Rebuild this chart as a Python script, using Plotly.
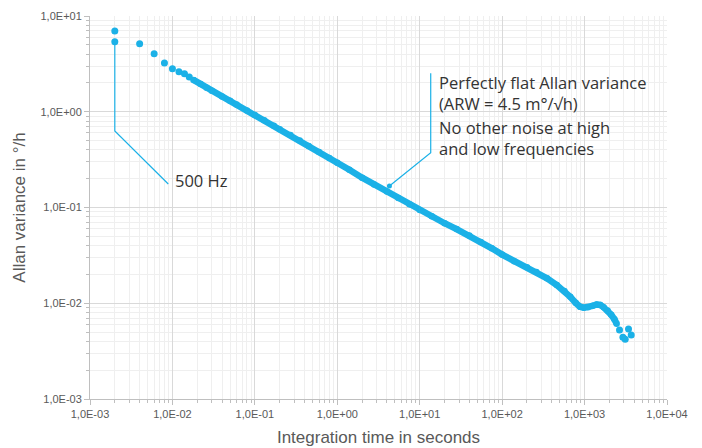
import numpy as np
import plotly.graph_objects as go

BLUE = "#1BB1E7"
GRAY_TXT = "#595959"

# Sparse points at short integration times (seconds, °/h)
tau_sparse = [0.002, 0.002, 0.004, 0.006, 0.008, 0.010, 0.012, 0.014, 0.016]
adev_sparse = [6.97, 5.39, 5.14, 4.03, 3.23, 2.82, 2.62, 2.50, 2.31]

# Dense part of the curve
tau_dense = [0.018, 0.022, 0.026, 0.03, 0.04, 0.05, 0.06, 0.08, 0.1, 0.13, 0.17, 0.2,
             0.27, 0.35, 0.45, 0.6, 0.8, 1.0, 1.4, 2.0, 2.8, 4.0, 5.5, 7.5, 10, 14,
             20, 28, 40, 55, 75, 100, 140, 200, 260, 350, 460, 570, 670, 780, 880,
             980, 1100, 1250, 1400, 1550, 1700, 1900, 2100, 2300, 2450]
adev_dense = [2.15, 1.95, 1.78, 1.66, 1.44, 1.30, 1.19, 1.03, 0.925, 0.815, 0.715, 0.655,
              0.572, 0.50, 0.44, 0.38, 0.328, 0.293, 0.248, 0.205, 0.174, 0.147, 0.126,
              0.108, 0.0942, 0.081, 0.0685, 0.0595, 0.051, 0.0435, 0.0375, 0.0322,
              0.0275, 0.0238, 0.0212, 0.0182, 0.0155, 0.0134, 0.0117, 0.0101, 0.0092,
              0.0090, 0.0091, 0.0094, 0.0097, 0.0096, 0.0091, 0.0084, 0.0076, 0.0068,
              0.0061]

# Scattered tail points
tau_tail = [2655, 2917, 3112, 3412, 3681]
adev_tail = [0.00526, 0.00441, 0.0042, 0.00538, 0.00466]

# Callout leader lines
callout1_x = [0.002, 0.002, 0.0089]
callout1_y = [5.39, 0.63, 0.176]
callout2_x = [4.29, 13.6, 13.6]
callout2_y = [0.1677, 0.373, 2.52]

x_tickvals = [1e-3, 1e-2, 1e-1, 1e0, 1e1, 1e2, 1e3, 1e4]
x_ticktext = ["1,0E-03", "1,0E-02", "1,0E-01", "1,0E+00", "1,0E+01", "1,0E+02", "1,0E+03", "1,0E+04"]
y_tickvals = [1e-3, 1e-2, 1e-1, 1e0, 1e1]
y_ticktext = ["1,0E-03", "1,0E-02", "1,0E-01", "1,0E+00", "1,0E+01"]

fig = go.Figure()
fig.add_trace(go.Scatter(x=callout1_x, y=callout1_y, mode="lines",
                         line=dict(color=BLUE, width=1.2), hoverinfo="skip"))
fig.add_trace(go.Scatter(x=callout2_x, y=callout2_y, mode="lines",
                         line=dict(color=BLUE, width=1.2), hoverinfo="skip"))
fig.add_trace(go.Scatter(x=[callout2_x[0]], y=[callout2_y[0]], mode="markers",
                         marker=dict(color=BLUE, size=5), hoverinfo="skip"))
fig.add_trace(go.Scatter(x=tau_sparse, y=adev_sparse, mode="markers",
                         marker=dict(color=BLUE, size=7)))
fig.add_trace(go.Scatter(x=tau_dense, y=adev_dense, mode="lines+markers",
                         line=dict(color=BLUE, width=6.5), marker=dict(color=BLUE, size=6.5)))
fig.add_trace(go.Scatter(x=tau_tail, y=adev_tail, mode="markers",
                         marker=dict(color=BLUE, size=7)))

ann_font = dict(family="Open Sans", size=16.5, color="#333333")
fig.add_annotation(x=np.log10(0.0101), y=np.log10(0.1936), xref="x", yref="y",
                   text="500 Hz", showarrow=False, xanchor="left", yanchor="middle",
                   font=ann_font)
fig.add_annotation(x=np.log10(16.4), y=np.log10(1.56), xref="x", yref="y",
                   text="Perfectly flat Allan variance<br>(ARW = 4.5 m°/√h)", showarrow=False,
                   xanchor="left", yanchor="middle", align="left", font=ann_font)
fig.add_annotation(x=np.log10(16.4), y=np.log10(0.534), xref="x", yref="y",
                   text="No other noise at high<br>and low frequencies", showarrow=False,
                   xanchor="left", yanchor="middle", align="left", font=ann_font)

axis_common = dict(
    type="log",
    automargin=False,
    showgrid=True, gridcolor="#d9d9d9", gridwidth=1,
    showline=True, linecolor="#bfbfbf", linewidth=1,
    ticks="outside", ticklen=5, tickcolor="#bfbfbf",
    tickfont=dict(family="Liberation Sans", size=11, color=GRAY_TXT),
    zeroline=False,
    minor=dict(dtick="D1", showgrid=True, gridcolor="#efefef", gridwidth=1,
               ticks="outside", ticklen=3, tickcolor="#bfbfbf"),
)

fig.update_xaxes(**axis_common, range=[-3, 4], tickmode="array",
                 tickvals=x_tickvals, ticktext=x_ticktext,
                 title=dict(text="Integration time in seconds",
                            font=dict(family="Liberation Sans", size=17, color=GRAY_TXT),
                            standoff=11))
fig.update_yaxes(**axis_common, range=[-3, 1], tickmode="array",
                 tickvals=y_tickvals, ticktext=y_ticktext,
                 title=dict(text="Allan variance in °/h",
                            font=dict(family="Liberation Sans", size=17, color=GRAY_TXT),
                            standoff=10))

fig.update_layout(
    width=702, height=448,
    margin=dict(l=82, r=43, t=8, b=57),
    paper_bgcolor="white", plot_bgcolor="white",
    showlegend=False,
)

fig.write_html("out.html")
